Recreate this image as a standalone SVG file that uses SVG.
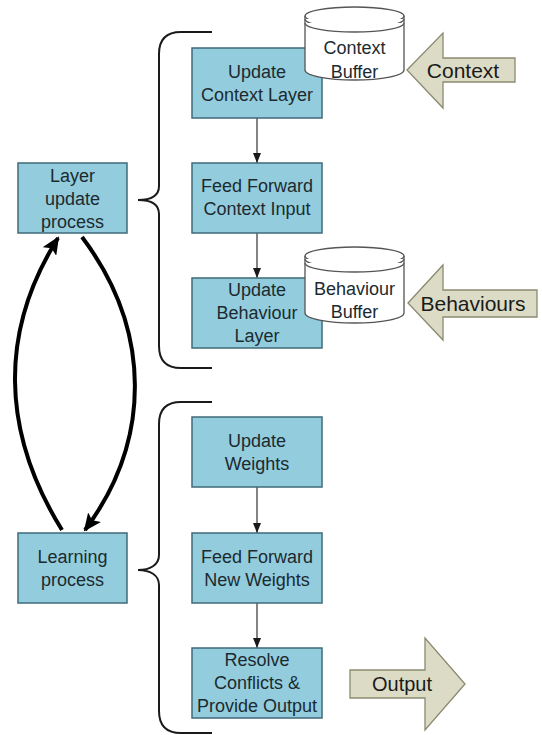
<svg xmlns="http://www.w3.org/2000/svg" width="542" height="735" viewBox="0 0 542 735">
<style>
.box{fill:#93cddd;stroke:#3f6b78;stroke-width:1.5}
.t{font-family:"Liberation Sans",Arial,sans-serif;font-size:18px;fill:#1c2a30;text-anchor:middle}
.big{font-family:"Liberation Sans",Arial,sans-serif;font-size:21px;fill:#1a1a1a;text-anchor:middle}
.cyl{fill:#ffffff;stroke:#555555;stroke-width:1.3}
.inp{fill:#dcdcc6;stroke:#8a8a72;stroke-width:1.3}
.conn{fill:none;stroke:#333333;stroke-width:1.2}
.loop{fill:none;stroke:#000000;stroke-width:4}
.brace{fill:none;stroke:#1a1a1a;stroke-width:2}
</style>
<defs>
<marker id="small" markerUnits="userSpaceOnUse" markerWidth="10" markerHeight="10" viewBox="0 0 10 10" refX="10" refY="5" orient="auto">
<path d="M0,1 L10,5 L0,9 Z" fill="#1a1a1a"/>
</marker>
<marker id="bigHead" markerUnits="userSpaceOnUse" markerWidth="18" markerHeight="16" viewBox="0 0 18 16" refX="16" refY="8" orient="auto">
<path d="M0,0 L18,8 L0,16 L4,8 Z" fill="#000000"/>
</marker>
</defs>

<g id="connectors">
<line class="conn" x1="257" y1="118" x2="257" y2="163" marker-end="url(#small)"/>
<line class="conn" x1="257" y1="233" x2="257" y2="278" marker-end="url(#small)"/>
<line class="conn" x1="257" y1="487" x2="257" y2="533" marker-end="url(#small)"/>
<line class="conn" x1="257" y1="603" x2="257" y2="648" marker-end="url(#small)"/>
<path class="loop" d="M62,530 C0,430 0,330 58,238" marker-end="url(#bigHead)"/>
<path class="loop" d="M82,237 C152,330 152,440 85,530" marker-end="url(#bigHead)"/>
</g>

<g id="brace-top">
<path class="brace" d="M212,32 H181 Q159,32 159,54 V186 C159,196 150,200 138,200 C150,200 159,204 159,214 V346 Q159,368 181,368 H212"/>
</g>
<g id="brace-bottom">
<path class="brace" d="M212,402 H181 Q159,402 159,424 V555 C159,565 150,570 138,570 C150,570 159,575 159,585 V711 Q159,733 181,733 H212"/>
</g>

<g id="layer-update">
<rect class="box" x="18" y="163" width="109" height="70"/>
<text class="t" x="72.5" y="181.5">Layer</text>
<text class="t" x="72.5" y="204.5">update</text>
<text class="t" x="72.5" y="227.5">process</text>
</g>
<g id="learning">
<rect class="box" x="18" y="533" width="109" height="70"/>
<text class="t" x="72.5" y="562.5">Learning</text>
<text class="t" x="72.5" y="585.5">process</text>
</g>

<g id="update-context">
<rect class="box" x="192" y="48" width="130" height="70"/>
<text class="t" x="257" y="77.5">Update</text>
<text class="t" x="257" y="100.5">Context Layer</text>
</g>
<g id="feed-context">
<rect class="box" x="192" y="163" width="130" height="70"/>
<text class="t" x="257" y="192">Feed Forward</text>
<text class="t" x="257" y="215">Context Input</text>
</g>
<g id="update-behaviour">
<rect class="box" x="192" y="278" width="130" height="70"/>
<text class="t" x="257" y="296">Update</text>
<text class="t" x="257" y="319">Behaviour</text>
<text class="t" x="257" y="342">Layer</text>
</g>
<g id="update-weights">
<rect class="box" x="192" y="417" width="130" height="70"/>
<text class="t" x="257" y="446.5">Update</text>
<text class="t" x="257" y="469.5">Weights</text>
</g>
<g id="feed-weights">
<rect class="box" x="192" y="533" width="130" height="70"/>
<text class="t" x="257" y="562.5">Feed Forward</text>
<text class="t" x="257" y="585.5">New Weights</text>
</g>
<g id="resolve">
<rect class="box" x="192" y="648" width="130" height="70"/>
<text class="t" x="257" y="666">Resolve</text>
<text class="t" x="257" y="689">Conflicts &amp;</text>
<text class="t" x="257" y="712">Provide Output</text>
</g>

<g id="context-buffer">
<path class="cyl" d="M305,16 V70 A49.5,10 0 0 0 404,70 V16"/>
<ellipse class="cyl" cx="354.5" cy="16" rx="49.5" ry="9"/>
<path class="cyl" d="M305,19 A49.5,9 0 0 0 404,19" fill="none"/>
<path class="cyl" d="M305,23 A49.5,9 0 0 0 404,23" fill="none"/>
<text class="t" x="354.5" y="54">Context</text>
<text class="t" x="354.5" y="78">Buffer</text>
</g>
<g id="behaviour-buffer">
<path class="cyl" d="M305,256 V313 A49.5,10 0 0 0 404,313 V256"/>
<ellipse class="cyl" cx="354.5" cy="256" rx="49.5" ry="9"/>
<path class="cyl" d="M305,259 A49.5,9 0 0 0 404,259" fill="none"/>
<path class="cyl" d="M305,263 A49.5,9 0 0 0 404,263" fill="none"/>
<text class="t" x="354.5" y="295">Behaviour</text>
<text class="t" x="354.5" y="318">Buffer</text>
</g>

<g id="context-input">
<polygon class="inp" points="407,70 443,33 443,58 515,58 515,82 443,82 443,108"/>
<text class="big" x="463" y="77.5">Context</text>
</g>
<g id="behaviours-input">
<polygon class="inp" points="408,303 443,265 443,290 537,290 537,317 443,317 443,340"/>
<text class="big" x="473" y="310.5">Behaviours</text>
</g>
<g id="output">
<polygon class="inp" points="350,670 425,670 425,638 465,684 425,730 425,698 350,698"/>
<text class="big" x="402" y="691" style="font-size:20px">Output</text>
</g>
</svg>
